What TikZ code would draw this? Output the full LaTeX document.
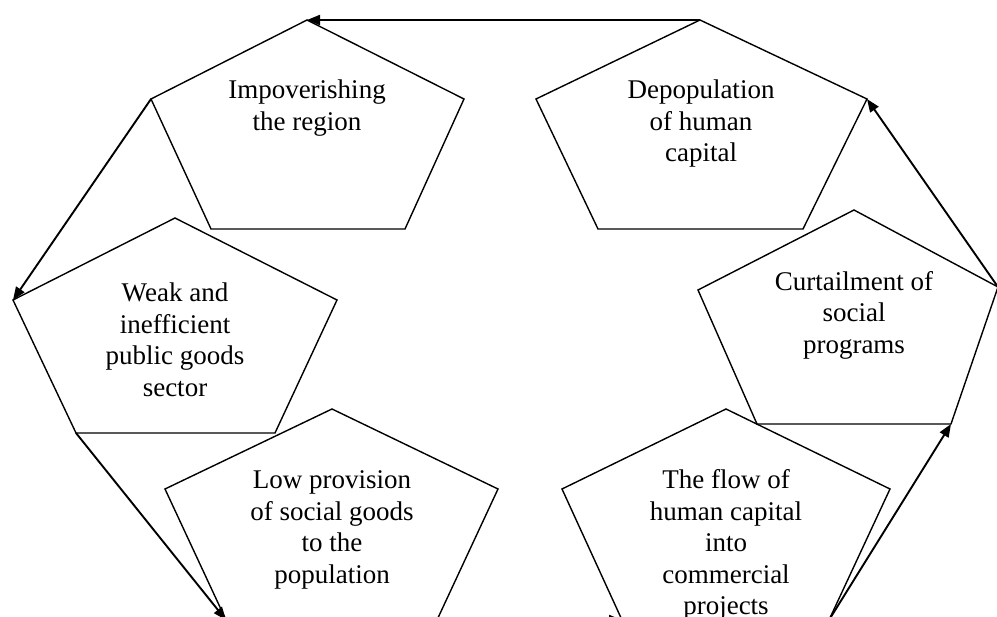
\documentclass[tikz,border=0pt]{standalone}
\usepackage{fontspec}
\setmainfont{Liberation Serif}
\usetikzlibrary{arrows.meta}
\begin{document}
\begin{tikzpicture}[x=1pt,y=-1pt,
  pent/.style={draw=black,line width=1.4pt,line join=miter},
  conn/.style={draw=black,line width=1.9pt,-{Triangle[length=13pt,width=10pt]}},
  lbl/.style={align=center,inner sep=0pt,font=\fontsize{27}{31.5}\selectfont}]
\useasboundingbox (0,0) rectangle (997,617);
\clip (0,0) rectangle (997,617);
% Impoverishing
\coordinate (Ia) at (307,20); \coordinate (Il) at (151,99); \coordinate (Ir) at (464,99);
\coordinate (Ibl) at (211,229); \coordinate (Ibr) at (405,229);
% Depopulation
\coordinate (Da) at (700,20); \coordinate (Dl) at (536,99); \coordinate (Dr) at (867,99);
\coordinate (Dbl) at (598,229); \coordinate (Dbr) at (803,229);
% Weak
\coordinate (Wa) at (175,218); \coordinate (Wl) at (13,300); \coordinate (Wr) at (337,300);
\coordinate (Wbl) at (76,433); \coordinate (Wbr) at (275,433);
% Low provision
\coordinate (La) at (332,409); \coordinate (Ll) at (165,489); \coordinate (Lr) at (498,489);
\coordinate (Lbl) at (226,620); \coordinate (Lbr) at (437,620);
% Curtailment
\coordinate (Ca) at (854,210); \coordinate (Cl) at (698,290); \coordinate (Cr) at (998,287);
\coordinate (Cbl) at (757,424); \coordinate (Cbr) at (951,424);
% Flow
\coordinate (Fa) at (726,409); \coordinate (Fl) at (562,489); \coordinate (Fr) at (890,489);
\coordinate (Fbl) at (622,620); \coordinate (Fbr) at (829,620);

\draw[pent] (Ia)--(Ir)--(Ibr)--(Ibl)--(Il)--cycle;
\draw[pent] (Da)--(Dr)--(Dbr)--(Dbl)--(Dl)--cycle;
\draw[pent] (Wa)--(Wr)--(Wbr)--(Wbl)--(Wl)--cycle;
\draw[pent] (La)--(Lr)--(Lbr)--(Lbl)--(Ll)--cycle;
\draw[pent] (Ca)--(Cr)--(Cbr)--(Cbl)--(Cl)--cycle;
\draw[pent] (Fa)--(Fr)--(Fbr)--(Fbl)--(Fl)--cycle;

\node[lbl] (imp) at (307,108) {Impoverishing\\the region};
\node[lbl] (dep) at (701,124) {Depopulation\\of human\\capital};
\node[lbl] (weak) at (175,340) {Weak and\\inefficient\\public goods\\sector};
\node[lbl] (curt) at (854,315) {Curtailment of\\social\\programs};
\node[lbl] (low) at (332,530) {Low provision\\of social goods\\to the\\population};
\node[lbl] (flow) at (726,545) {The flow of\\human capital\\into\\commercial\\projects};

\draw[conn] (Da) -- (Ia);
\draw[conn] (Il) -- (Wl);
\draw[conn] (Wbl) -- (Lbl);
\draw[conn] (Lbr) -- (Fbl);
\draw[conn] (Fbr) -- (Cbr);
\draw[conn] (Cr) -- (Dr);
\end{tikzpicture}
\end{document}
